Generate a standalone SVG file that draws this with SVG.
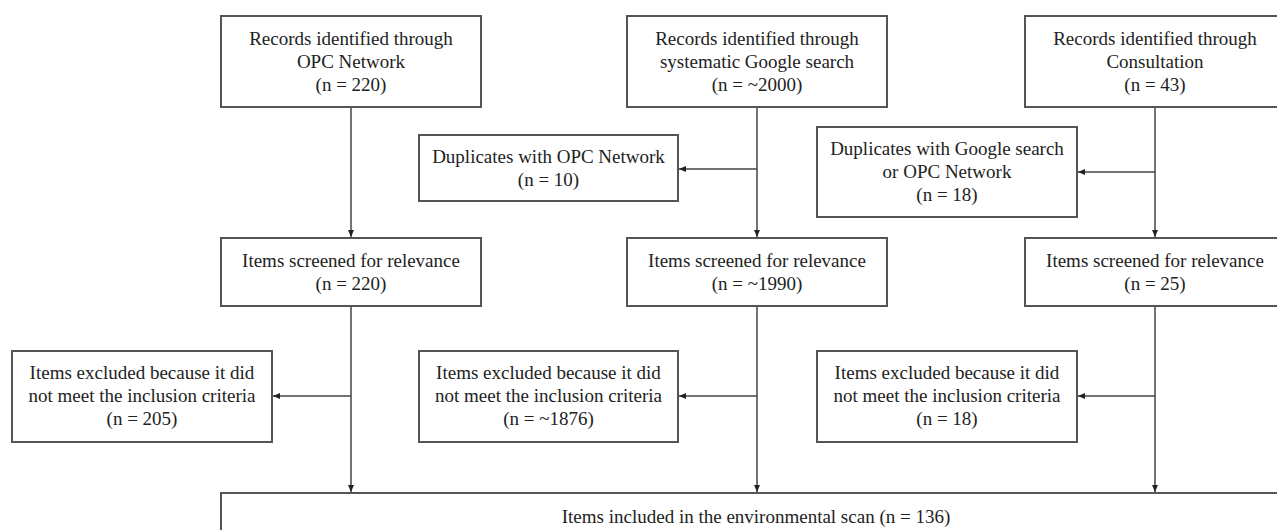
<svg xmlns="http://www.w3.org/2000/svg" width="1277" height="530" viewBox="0 0 1277 530">
<style>
.box{fill:#fff;stroke:#555;stroke-width:2}
.t{font-family:"Liberation Serif","Times New Roman",serif;font-size:19px;fill:#222;text-anchor:middle}
.c{fill:none;stroke:#444;stroke-width:1.5}
</style>
<defs>
<marker id="ah" markerUnits="userSpaceOnUse" markerWidth="8" markerHeight="8" viewBox="0 0 8 8" refX="7" refY="4" orient="auto">
<path d="M0,1 L7,4 L0,7 Z" fill="#222"/>
</marker>
</defs>
<rect width="1277" height="530" fill="#fff"/>
<g id="connectors">
<path class="c" d="M351,107 V237" marker-end="url(#ah)"/>
<path class="c" d="M757,107 V237" marker-end="url(#ah)"/>
<path class="c" d="M1155,107 V237" marker-end="url(#ah)"/>
<path class="c" d="M757,169 H679" marker-end="url(#ah)"/>
<path class="c" d="M1155,172 H1078" marker-end="url(#ah)"/>
<path class="c" d="M351,306 V492" marker-end="url(#ah)"/>
<path class="c" d="M757,306 V492" marker-end="url(#ah)"/>
<path class="c" d="M1155,306 V492" marker-end="url(#ah)"/>
<path class="c" d="M351,396 H273" marker-end="url(#ah)"/>
<path class="c" d="M757,396 H679" marker-end="url(#ah)"/>
<path class="c" d="M1155,396 H1078" marker-end="url(#ah)"/>
</g>
<g id="rec-opc">
<rect class="box" x="221" y="16" width="260" height="91"/>
<text class="t" x="351" y="45">Records identified through</text>
<text class="t" x="351" y="68">OPC Network</text>
<text class="t" x="351" y="91">(n = 220)</text>
</g>
<g id="rec-google">
<rect class="box" x="627" y="16" width="260" height="91"/>
<text class="t" x="757" y="45">Records identified through</text>
<text class="t" x="757" y="68">systematic Google search</text>
<text class="t" x="757" y="91">(n = ~2000)</text>
</g>
<g id="rec-consult">
<rect class="box" x="1025" y="16" width="262" height="91"/>
<text class="t" x="1155" y="45">Records identified through</text>
<text class="t" x="1155" y="68">Consultation</text>
<text class="t" x="1155" y="91">(n = 43)</text>
</g>
<g id="dup-opc">
<rect class="box" x="419" y="135" width="259" height="66"/>
<text class="t" x="548.5" y="163">Duplicates with OPC Network</text>
<text class="t" x="548.5" y="186">(n = 10)</text>
</g>
<g id="dup-google">
<rect class="box" x="817" y="127" width="260" height="90"/>
<text class="t" x="947" y="155">Duplicates with Google search</text>
<text class="t" x="947" y="178">or OPC Network</text>
<text class="t" x="947" y="201">(n = 18)</text>
</g>
<g id="scr-opc">
<rect class="box" x="221" y="238" width="260" height="68"/>
<text class="t" x="351" y="267">Items screened for relevance</text>
<text class="t" x="351" y="290">(n = 220)</text>
</g>
<g id="scr-google">
<rect class="box" x="627" y="238" width="260" height="68"/>
<text class="t" x="757" y="267">Items screened for relevance</text>
<text class="t" x="757" y="290">(n = ~1990)</text>
</g>
<g id="scr-consult">
<rect class="box" x="1025" y="238" width="262" height="68"/>
<text class="t" x="1155" y="267">Items screened for relevance</text>
<text class="t" x="1155" y="290">(n = 25)</text>
</g>
<g id="exc-opc">
<rect class="box" x="12" y="351" width="260" height="91"/>
<text class="t" x="142" y="379">Items excluded because it did</text>
<text class="t" x="142" y="402">not meet the inclusion criteria</text>
<text class="t" x="142" y="425">(n = 205)</text>
</g>
<g id="exc-google">
<rect class="box" x="419" y="351" width="259" height="91"/>
<text class="t" x="548.5" y="379">Items excluded because it did</text>
<text class="t" x="548.5" y="402">not meet the inclusion criteria</text>
<text class="t" x="548.5" y="425">(n = ~1876)</text>
</g>
<g id="exc-consult">
<rect class="box" x="817" y="351" width="260" height="91"/>
<text class="t" x="947" y="379">Items excluded because it did</text>
<text class="t" x="947" y="402">not meet the inclusion criteria</text>
<text class="t" x="947" y="425">(n = 18)</text>
</g>
<g id="included">
<rect class="box" x="221" y="493" width="1070" height="60"/>
<text class="t" x="756" y="523">Items included in the environmental scan (n = 136)</text>
</g>
</svg>
